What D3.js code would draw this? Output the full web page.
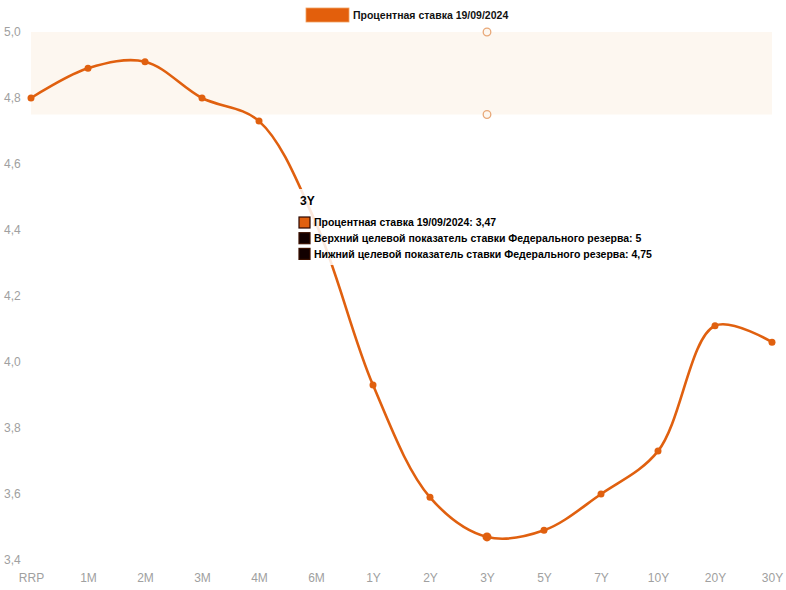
<!DOCTYPE html>
<html>
<head>
<meta charset="utf-8">
<script src="https://cdn.jsdelivr.net/npm/d3@7"></script>
<style>
  html, body { margin: 0; padding: 0; background: #ffffff; }
  svg { display: block; }
</style>
</head>
<body>
<svg id="chart" width="786" height="590"></svg>
<script>
// ---- data ----
const categories = ["RRP", "1M", "2M", "3M", "4M", "6M", "1Y", "2Y", "3Y", "5Y", "7Y", "10Y", "20Y", "30Y"];
const rates = [4.80, 4.89, 4.91, 4.80, 4.73, 4.42, 3.93, 3.59, 3.47, 3.49, 3.60, 3.73, 4.11, 4.06];
const upperTarget = 5;
const lowerTarget = 4.75;
const yTicks = [3.4, 3.6, 3.8, 4.0, 4.2, 4.4, 4.6, 4.8, 5.0];
const seriesName = "Процентная ставка 19/09/2024";
const upperName = "Верхний целевой показатель ставки Федерального резерва";
const lowerName = "Нижний целевой показатель ставки Федерального резерва";
const hoverCategory = "3Y";

const fmt = v => String(v).replace(".", ",");
const fmt1 = v => v.toFixed(1).replace(".", ",");

const svg = d3.select("#chart");
const x = d3.scalePoint().domain(categories).range([31, 772]);
const y = d3.scaleLinear().domain([3.4, 5.0]).range([560, 32]);

const lineColor = "#e0600f";

// target band
svg.append("rect")
  .attr("x", x(categories[0]))
  .attr("y", y(upperTarget))
  .attr("width", x(categories[categories.length - 1]) - x(categories[0]))
  .attr("height", y(lowerTarget) - y(upperTarget))
  .attr("fill", "#fdf7f0");

// y axis
const yAxis = svg.append("g")
  .attr("transform", "translate(4,-1)")
  .call(d3.axisLeft(y).tickValues(yTicks).tickFormat(fmt1).tickSize(0));
yAxis.select(".domain").remove();
yAxis.selectAll("text")
  .attr("x", 0).attr("text-anchor", "start").attr("dy", "0.35em")
  .attr("fill", "#a0a0a0")
  .style("font-family", "Liberation Sans, Arial, sans-serif")
  .style("font-size", "12px");

// x axis
const xAxis = svg.append("g")
  .attr("transform", "translate(0,578)")
  .call(d3.axisBottom(x).tickSize(0));
xAxis.select(".domain").remove();
xAxis.selectAll("text")
  .attr("y", 0).attr("dy", "0.35em")
  .attr("fill", "#a0a0a0")
  .style("font-family", "Liberation Sans, Arial, sans-serif")
  .style("font-size", "12px");

// hover markers for targets
[upperTarget, lowerTarget].forEach(v => {
  svg.append("circle")
    .attr("cx", x(hoverCategory)).attr("cy", y(v)).attr("r", 3.8)
    .attr("fill", "#fdf7f0").attr("stroke", "#e8a878").attr("stroke-width", 1.3);
});

// line
const data = categories.map((c, i) => ({ c, v: rates[i] }));
const line = d3.line().x(d => x(d.c)).y(d => y(d.v)).curve(d3.curveCatmullRom.alpha(0.5));
svg.append("path")
  .datum(data)
  .attr("d", line)
  .attr("fill", "none")
  .attr("stroke", lineColor)
  .attr("stroke-width", 2.6);

svg.selectAll("circle.pt")
  .data(data)
  .enter().append("circle")
  .attr("class", "pt")
  .attr("cx", d => x(d.c)).attr("cy", d => y(d.v))
  .attr("r", d => d.c === hoverCategory ? 4.5 : 3.5)
  .attr("fill", lineColor);

// legend
svg.append("rect")
  .attr("x", 306).attr("y", 8).attr("width", 43).attr("height", 14)
  .attr("fill", "#e35f0c").attr("stroke", "#f0a060").attr("stroke-width", 0.8);
svg.append("text")
  .attr("x", 353).attr("y", 19)
  .attr("fill", "#111")
  .style("font-family", "Liberation Sans, Arial, sans-serif")
  .style("font-weight", "bold")
  .style("font-size", "10.5px")
  .text(seriesName);

// tooltip
const hi = categories.indexOf(hoverCategory);
const tip = svg.append("g").attr("transform", "translate(296,189)");
tip.append("rect")
  .attr("x", 0).attr("y", 0).attr("width", 362).attr("height", 76)
  .attr("fill", "#ffffff").attr("fill-opacity", 0.85);
tip.append("text")
  .attr("x", 4).attr("y", 16)
  .attr("fill", "#000")
  .style("font-family", "Liberation Sans, Arial, sans-serif")
  .style("font-weight", "bold").style("font-size", "12px")
  .text(hoverCategory);
const rows = [
  { name: seriesName, value: rates[hi], fill: "#e0600f", stroke: "#2a0800" },
  { name: upperName, value: upperTarget, fill: "#120000", stroke: "#3a1000" },
  { name: lowerName, value: lowerTarget, fill: "#120000", stroke: "#3a1000" }
];
rows.forEach((r, i) => {
  const cy = 33.5 + i * 15.7;
  tip.append("rect")
    .attr("x", 3).attr("y", cy - 5.5).attr("width", 11).attr("height", 11)
    .attr("fill", r.fill).attr("stroke", r.stroke).attr("stroke-width", 1.2);
  tip.append("text")
    .attr("x", 18).attr("y", cy).attr("dy", "0.35em")
    .attr("fill", "#000")
    .style("font-family", "Liberation Sans, Arial, sans-serif")
    .style("font-weight", "bold").style("font-size", "10.5px")
    .text(r.name + ": " + fmt(r.value));
});
</script>
</body>
</html>
